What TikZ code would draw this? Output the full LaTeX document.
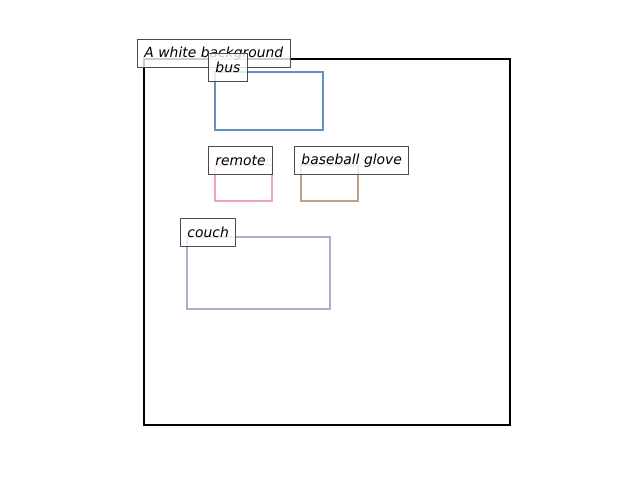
\documentclass[tikz,border=0pt]{standalone}
\usepackage{fontspec}
\setmainfont{DejaVu Sans}
\begin{document}
\begin{tikzpicture}[x=0.72pt,y=-0.72pt,
  bbox/.style={line width=1.44pt},
  lbl/.style={draw=black!70, line width=0.7pt, fill=white, fill opacity=0.8, text opacity=1,
    anchor=south west, inner xsep=5pt, inner ysep=0pt, minimum height=20pt,
    font=\fontsize{10}{12}\selectfont\itshape}]
\definecolor{cbus}{RGB}{100,145,192}
\definecolor{crem}{RGB}{242,166,180}
\definecolor{cglv}{RGB}{196,154,138}
\definecolor{ccou}{RGB}{180,170,206}
\useasboundingbox (0,0) rectangle (640,480);
\draw[bbox, black] (144,59) rectangle (510,425);
\draw[bbox, cbus] (215,72) rectangle (323,130);
\draw[bbox, crem] (215,165) rectangle (272,201);
\draw[bbox, cglv] (301,165) rectangle (358,201);
\draw[bbox, ccou] (187,237) rectangle (330,309);
\node[lbl] (lbg) at (137,68) {A white background};
\node[lbl] (lbus) at (208,82) {bus};
\node[lbl] (lrem) at (208,175) {remote};
\node[lbl] (lglv) at (294,175) {baseball glove};
\node[lbl] (lcou) at (180,247) {couch};
\end{tikzpicture}
\end{document}
